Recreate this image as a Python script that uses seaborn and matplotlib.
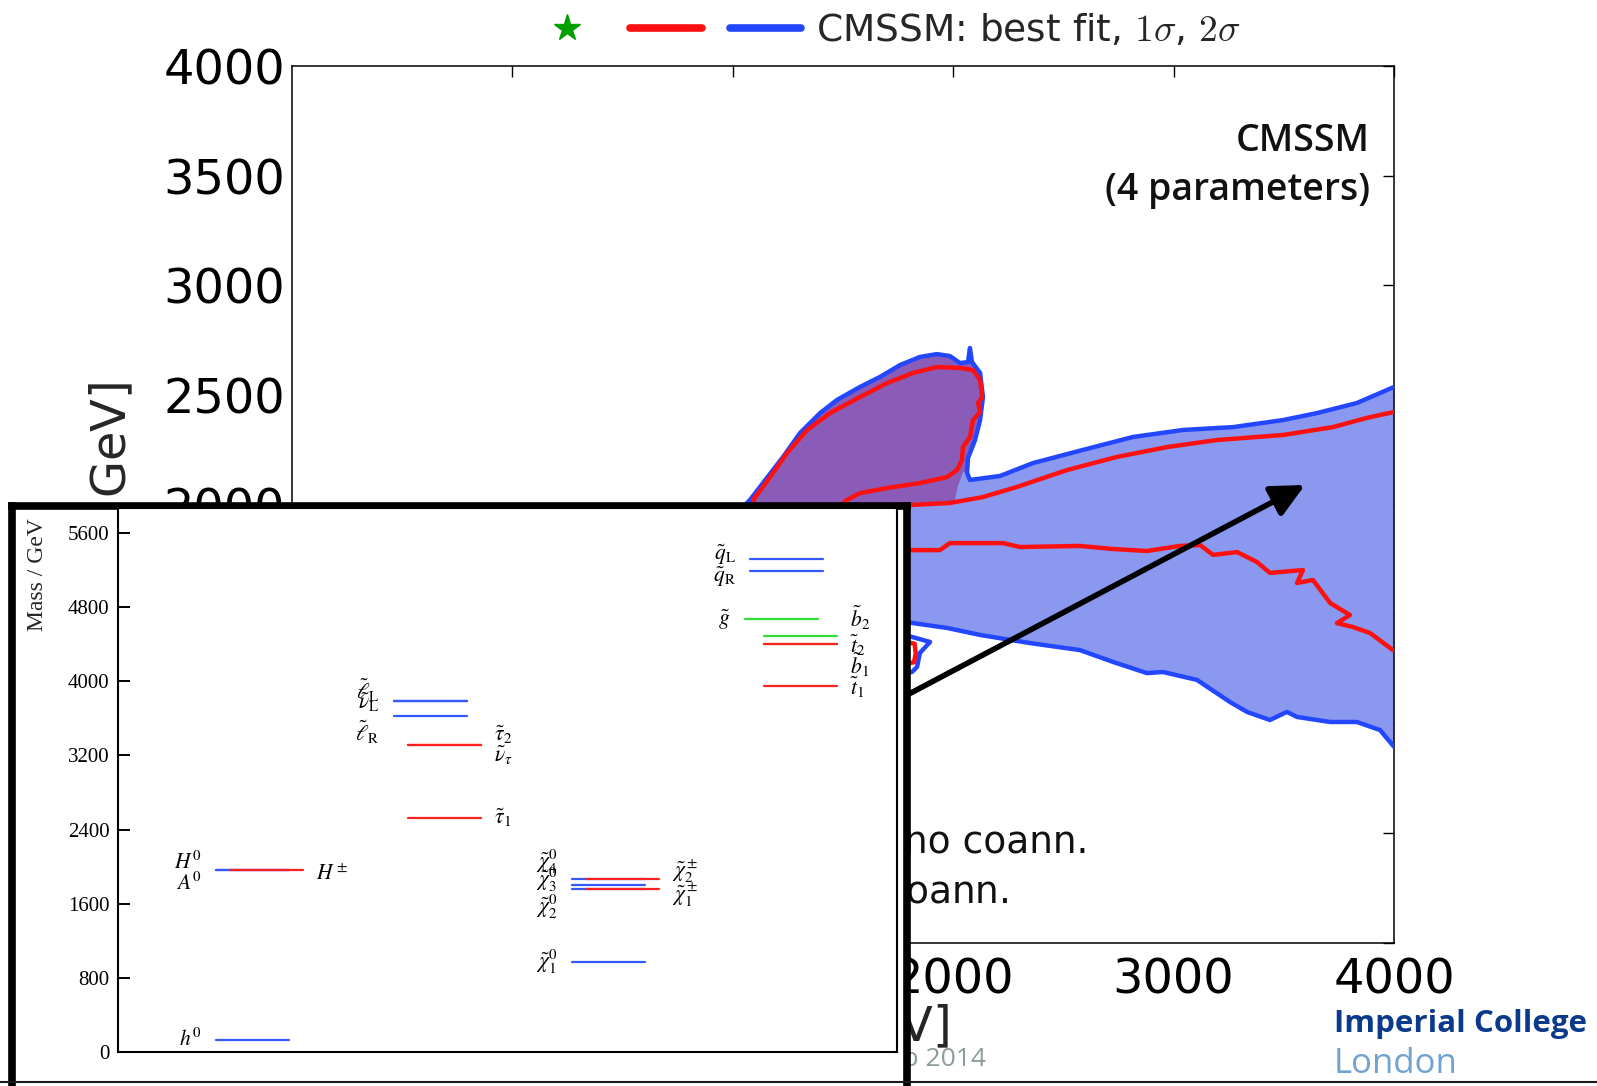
import numpy as np
import pandas as pd
import matplotlib
matplotlib.use("Agg")
import matplotlib.pyplot as plt
from matplotlib.lines import Line2D
from matplotlib.legend_handler import HandlerTuple
import seaborn as sns

# ---------------- CMSSM (m0, m1/2) plane, GeV ----------------
# 2-sigma (blue) contour: upper branch, blob + band, left to right
blue_upper_m0 = [851, 1033, 1078, 1137, 1228, 1305, 1396, 1473, 1577, 1668,
                 1759, 1849, 1926, 1985, 2031, 2067, 2076, 2085, 2122, 2135,
                 2122, 2099, 2067, 2063, 2076, 2212, 2362, 2589, 2816, 3043,
                 3270, 3496, 3651, 3832, 4000]
blue_upper_m12 = [1747, 1975, 2021, 2098, 2217, 2326, 2417, 2477, 2536, 2582,
                  2636, 2673, 2686, 2677, 2645, 2650, 2714, 2650, 2600, 2490,
                  2385, 2294, 2212, 2144, 2112, 2130, 2189, 2249, 2308, 2340,
                  2353, 2385, 2417, 2463, 2536]
# 2-sigma contour: lower branch, right to left
blue_lower_m0 = [4000, 3937, 3832, 3710, 3560, 3514, 3437, 3333, 3256, 3106,
                 2952, 2879, 2725, 2575, 2348, 2122, 1972, 1818, 1668, 1532]
blue_lower_m12 = [895, 971, 1008, 1008, 1031, 1054, 1017, 1054, 1099, 1200,
                  1236, 1231, 1282, 1336, 1368, 1405, 1437, 1459, 1482, 1510]
# closing point of the 2-sigma region
blue_close_m0 = [1200]
blue_close_m12 = [1560]
# small 2-sigma island
island_blue_m0 = [1700, 1813, 1895, 1849, 1836, 1813, 1700]
island_blue_m12 = [1420, 1396, 1373, 1323, 1259, 1236, 1220]
island_red_m0 = [1750, 1825, 1830, 1822, 1750]
island_red_m12 = [1380, 1365, 1320, 1280, 1270]

# 1-sigma (red) contours
red_blob_m0 = [1092, 1169, 1246, 1337, 1441, 1577, 1700, 1818, 1926, 2031,
               2090, 2122, 2131, 2113, 2122, 2090, 2076, 2044, 2040, 2017,
               1972, 1849, 1700, 1577, 1518, 1350, 1150, 1092]
red_blob_m12 = [2021, 2125, 2235, 2340, 2417, 2490, 2554, 2600, 2627, 2623,
                2613, 2568, 2490, 2463, 2422, 2385, 2308, 2262, 2203, 2157,
                2125, 2098, 2075, 2052, 2021, 1880, 1880, 2021]
red_upper_m0 = [1200, 1500, 1813, 1985, 2135, 2289, 2516, 2743, 2970, 3197,
                3496, 3723, 3877, 4000]
red_upper_m12 = [1900, 1960, 1998, 2007, 2034, 2080, 2157, 2217, 2262, 2294,
                 2317, 2353, 2395, 2422]
red_lower_m0 = [1300, 1813, 1940, 1985, 2226, 2303, 2575, 2725, 2879, 3029,
                3120, 3179, 3288, 3378, 3437, 3587, 3560, 3632, 3710, 3800,
                3741, 3814, 3891, 3995]
red_lower_m12 = [1780, 1792, 1792, 1824, 1824, 1806, 1811, 1797, 1788, 1811,
                 1815, 1770, 1783, 1738, 1688, 1701, 1642, 1656, 1551, 1496,
                 1459, 1441, 1414, 1336]
# lower edge of the stop-coannihilation blob (purple)
blob_base_m0 = [2045, 2020, 2005, 1800, 1500, 1000]
blob_base_m12 = [2150, 2080, 2005, 1995, 1900, 1900]

# arrow from the spectrum to the best-fit region
arrow_from = (1532, 994)
arrow_to = (3596, 2089)

# ---------------- sparticle spectrum (inset), GeV ----------------
particles = [r'$h^0$', r'$H^0$', r'$A^0$', r'$H^\pm$',
             r'$\tilde{\ell}_\mathrm{L}$', r'$\tilde{\nu}_\mathrm{L}$',
             r'$\tilde{\ell}_\mathrm{R}$', r'$\tilde{\tau}_2$',
             r'$\tilde{\nu}_\tau$', r'$\tilde{\tau}_1$',
             r'$\tilde{\chi}^0_4$', r'$\tilde{\chi}^0_3$', r'$\tilde{\chi}^0_2$',
             r'$\tilde{\chi}^\pm_2$', r'$\tilde{\chi}^\pm_1$', r'$\tilde{\chi}^0_1$',
             r'$\tilde{q}_\mathrm{L}$', r'$\tilde{q}_\mathrm{R}$', r'$\tilde{g}$',
             r'$\tilde{b}_2$', r'$\tilde{b}_1$', r'$\tilde{t}_2$', r'$\tilde{t}_1$']
masses = [125, 1960, 1960, 1964,
          3787, 3787, 3625, 3312, 3312, 2525,
          1867, 1802, 1759, 1867, 1759, 971,
          5319, 5190, 4672, 4489, 4400, 4402, 3949]
column = [1, 1, 1, 1, 2, 2, 2, 2, 2, 2, 3, 3, 3, 3, 3, 3, 4, 4, 4, 4, 4, 4, 4]
side = ['L', 'L', 'L', 'R', 'L', 'L', 'L', 'R', 'R', 'R',
        'L', 'L', 'L', 'R', 'R', 'L', 'L', 'L', 'G', 'R', 'R', 'R', 'R']
colour = ['blue', 'blue', 'blue', 'red', 'blue', 'blue', 'blue', 'red', 'red', 'red',
          'blue', 'blue', 'blue', 'red', 'red', 'blue',
          'blue', 'blue', 'green', 'green', 'green', 'red', 'red']
# vertical positions of the name tags (spread apart so they do not collide)
label_y = [140, 2050, 1824, 1910, 3906, 3776, 3453, 3420, 3205, 2525,
           2050, 1856, 1565, 1942, 1694, 971, 5363, 5125, 4661, 4683, 4176, 4392, 3938]
mass_ticks = [0, 800, 1600, 2400, 3200, 4000, 4800, 5600]

# ---------------- styling ----------------
sns.set_style("white")
plt.rcParams['font.family'] = ['DejaVu Sans']
plt.rcParams['mathtext.fontset'] = 'cm'

W, H = 1597, 1086
fig = plt.figure(figsize=(W / 100, H / 100), dpi=100, facecolor='white')

C_FILL = '#8a99ef'
C_BLOB = '#8a5cb8'
C_BLUE = '#2346ff'
C_RED = '#ff1010'

# ---------------- main plane ----------------
ax = fig.add_axes([292 / W, 1 - 943 / H, 1102 / W, 877 / H], zorder=0)
ax.set_facecolor('white')

fill_x = blue_upper_m0 + blue_lower_m0 + blue_close_m0
fill_y = blue_upper_m12 + blue_lower_m12 + blue_close_m12
ax.fill(fill_x, fill_y, color=C_FILL, lw=0, zorder=1)
ax.fill(blue_upper_m0[1:24] + blob_base_m0, blue_upper_m12[1:24] + blob_base_m12,
        color=C_BLOB, lw=0, zorder=1.5)

for xs, ys, c in [(blue_upper_m0, blue_upper_m12, C_BLUE),
                  (blue_lower_m0, blue_lower_m12, C_BLUE),
                  (island_blue_m0, island_blue_m12, C_BLUE),
                  (red_blob_m0, red_blob_m12, C_RED),
                  (red_upper_m0, red_upper_m12, C_RED),
                  (red_lower_m0, red_lower_m12, C_RED),
                  (island_red_m0, island_red_m12, C_RED)]:
    sns.lineplot(x=xs, y=ys, sort=False, estimator=None, color=c, lw=3.2,
                 ax=ax, zorder=3)

ax.annotate('', xy=arrow_to, xytext=arrow_from, xycoords='data',
            arrowprops=dict(arrowstyle='-|>,head_length=0.45,head_width=0.22',
                            mutation_scale=45, lw=4, color='black',
                            shrinkA=0, shrinkB=0), zorder=5)

ax.set_xlim(-1000, 4000)
ax.set_ylim(0, 4000)
ax.set_xticks([0, 1000, 2000, 3000, 4000])
ax.set_yticks(np.arange(0, 4001, 500))
ax.tick_params(direction='in', length=8, width=1, top=True, right=True,
               labelsize=34.5, colors='black')
ax.tick_params(axis='x', pad=10)
ax.tick_params(axis='y', pad=5)
for s in ax.spines.values():
    s.set_linewidth(1.1)
    s.set_color('black')
ax.set_ylabel(r'$m_{1/2}$ [GeV]', fontsize=34.5)
ax.yaxis.set_label_coords(-0.134, 0.5)
ax.set_xlabel(r'$m_0$ [GeV]', fontsize=34.5)
ax.xaxis.set_label_coords(0.5, -0.068)

ax.text(0.978, 0.9145, 'CMSSM', transform=ax.transAxes, ha='right', va='center',
        fontsize=27, family='Open Sans', weight='semibold', color='#111111')
ax.text(0.978, 0.8586, '(4 parameters)', transform=ax.transAxes, ha='right',
        va='center', fontsize=27, family='Open Sans', weight='semibold',
        color='#111111')
ax.text(0.7223, 0.114, 'no coann.', transform=ax.transAxes, ha='right',
        va='center', fontsize=27, color='#111111')
ax.text(0.650, 0.056, r'$\tilde{\tau}_1$ coann.', transform=ax.transAxes,
        ha='right', va='center', fontsize=27, color='#111111')

# legend row above the plane
h_star = Line2D([], [], ls='none', marker='*', ms=20, color='#00a000', mec='#00a000')
h_red = Line2D([], [], color=C_RED, lw=5.5)
h_blue = Line2D([], [], color=C_BLUE, lw=5.5)
ax.legend([(h_star, h_red, h_blue)], [r'CMSSM: best fit, $1\sigma$, $2\sigma$'],
          handler_map={tuple: HandlerTuple(ndivide=None, pad=0.75)},
          loc='center left', bbox_to_anchor=(531 / W, 1 - 31 / H),
          bbox_transform=fig.transFigure, frameon=False, borderpad=0,
          borderaxespad=0, handlelength=7.2, handletextpad=0.4, fontsize=27)

fig.text(986 / W, 1 - 1060 / H, 'Feb 2014', ha='right', va='center',
         fontsize=19, family='Open Sans', color='#8c9c9c', zorder=1)

# ---------------- spectrum inset ----------------
frame = fig.add_axes([11.5 / W, 1 - 1120 / H, 895.5 / W, (1120 - 506) / H], zorder=5)
frame.set_facecolor('white')
frame.set_xticks([])
frame.set_yticks([])
for s in frame.spines.values():
    s.set_linewidth(5.5)
    s.set_color('black')

axs = fig.add_axes([118 / W, 1 - 1052 / H, 779 / W, 544 / H], zorder=6)
axs.set_facecolor('white')
start_off = {'L': -0.45, 'R': -0.37, 'G': -0.48}
width = 0.41
rows = []
for i, (m, c, sd, col) in enumerate(zip(masses, column, side, colour)):
    x0 = c + start_off[sd]
    rows.append(dict(pid=i, x=x0, mass=m, colour=col))
    rows.append(dict(pid=i, x=x0 + width, mass=m, colour=col))
seg = pd.DataFrame(rows)
sns.lineplot(data=seg, x='x', y='mass', units='pid', hue='colour',
             hue_order=['blue', 'green', 'red'],
             palette={'blue': '#3558ff', 'green': '#33dd33', 'red': '#ff2020'},
             estimator=None, sort=False, legend=False, lw=1.6, ax=axs)

for name, m, c, sd, ly in zip(particles, masses, column, side, label_y):
    x0 = c + start_off[sd]
    if sd == 'R':
        axs.text(x0 + width + 0.07, ly, name, ha='left', va='center', fontsize=15.5,
                 math_fontfamily='stix', color='black')
    else:
        axs.text(x0 - 0.08, ly, name, ha='right', va='center', fontsize=15.5,
                 math_fontfamily='stix', color='black')

axs.set_xlim(0, 779 / 178)
axs.set_ylim(0, 5870)
axs.set_xticks([])
axs.set_yticks(mass_ticks)
axs.set_yticklabels([str(t) for t in mass_ticks], family='Liberation Serif')
axs.tick_params(axis='y', direction='in', length=8.5, width=1.4, labelsize=15,
                pad=6, left=True, right=False, colors='black')
axs.set_xlabel('')
axs.set_ylabel('Mass / GeV', fontsize=17, family='Liberation Serif')
axs.yaxis.set_label_coords(-0.090, 0.877)
for s in axs.spines.values():
    s.set_linewidth(1.5)
    s.set_color('black')

# ---------------- footer ----------------
fig.text(1334 / W, 1 - 1024 / H, 'Imperial College', ha='left', va='center',
         fontsize=22.5, family='Open Sans', weight='bold', color='#0b3a8c', zorder=3)
fig.text(1334 / W, 1 - 1064 / H, 'London', ha='left', va='center',
         fontsize=25, family='Open Sans', color='#72a2d2', zorder=3)
fig.add_artist(Line2D([0, 1], [1 - 1082 / H, 1 - 1082 / H], transform=fig.transFigure,
                      color='#1a1a1a', lw=1.5, zorder=20))

fig.savefig('out.png', dpi=100, facecolor='white')
